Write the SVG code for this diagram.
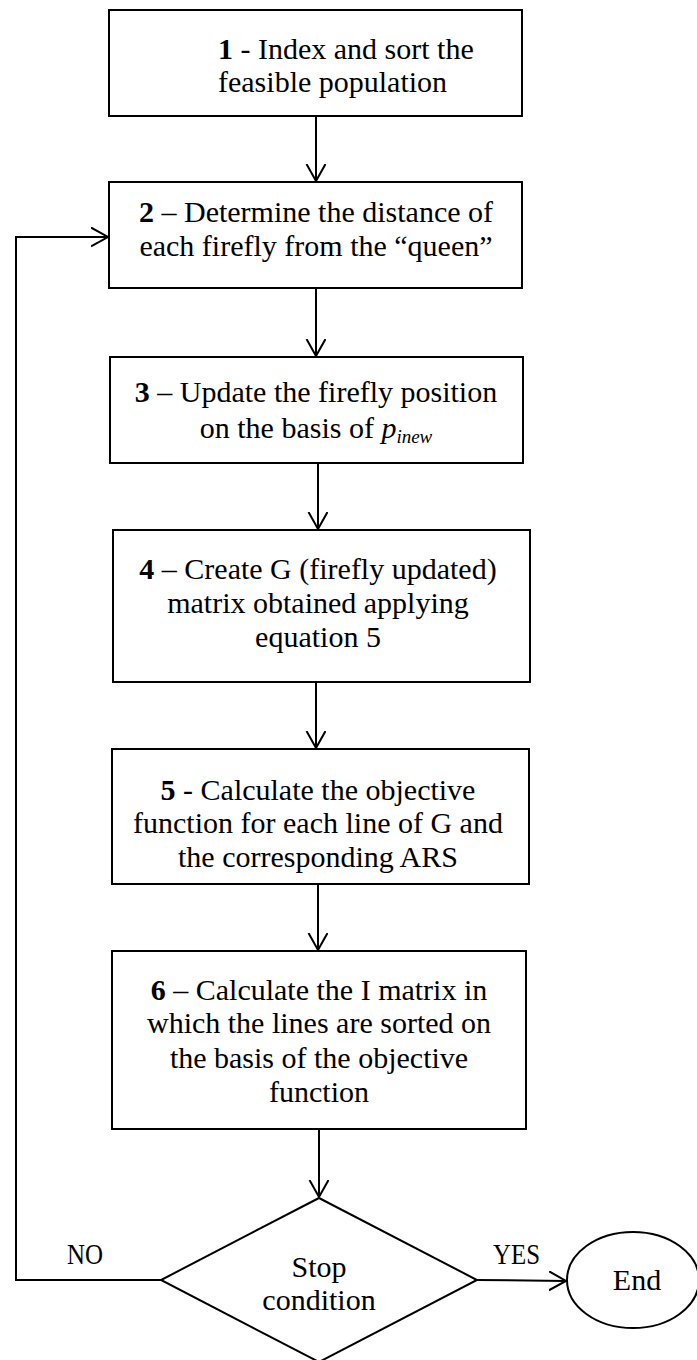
<svg xmlns="http://www.w3.org/2000/svg" width="697" height="1360" viewBox="0 0 697 1360">
<style>
.box{fill:#fff;stroke:#000;stroke-width:2}
.t{font-family:"Liberation Serif","Times New Roman",serif;font-size:30px;fill:#000}
.c{text-anchor:middle}
.b{font-weight:bold}
.con{fill:none;stroke:#000;stroke-width:2}
</style>
<defs>
<marker id="ah" markerUnits="userSpaceOnUse" markerWidth="20" markerHeight="22" refX="17" refY="10" orient="auto" viewBox="0 0 20 22">
<path d="M0,0.5 L17,10 L0,19.5" fill="none" stroke="#000" stroke-width="2"/>
</marker>
</defs>
<rect width="697" height="1360" fill="#fff"/>
<g id="connectors">
<line class="con" x1="316" y1="116" x2="316" y2="181" marker-end="url(#ah)"/>
<line class="con" x1="316" y1="288" x2="316" y2="356" marker-end="url(#ah)"/>
<line class="con" x1="318" y1="463" x2="318" y2="529" marker-end="url(#ah)"/>
<line class="con" x1="316" y1="682" x2="316" y2="748" marker-end="url(#ah)"/>
<line class="con" x1="318" y1="884" x2="318" y2="950" marker-end="url(#ah)"/>
<line class="con" x1="319" y1="1129" x2="319" y2="1197" marker-end="url(#ah)"/>
<polyline class="con" points="161,1280 16,1280 16,237 108,237" marker-end="url(#ah)"/>
<line class="con" x1="477" y1="1280" x2="566" y2="1281" marker-end="url(#ah)"/>
<text class="t" x="67" y="1264" textLength="36" lengthAdjust="spacingAndGlyphs">NO</text>
<text class="t" x="493" y="1264" textLength="47" lengthAdjust="spacingAndGlyphs">YES</text>
</g>
<g id="n1">
<rect class="box" x="109" y="10" width="413" height="106"/>
<text class="t" x="218" y="59"><tspan class="b">1</tspan> - Index and sort the</text>
<text class="t" x="218" y="92">feasible population</text>
</g>
<g id="n2">
<rect class="box" x="109" y="182" width="413" height="106"/>
<text class="t c" x="316" y="222"><tspan class="b">2</tspan> – Determine the distance of</text>
<text class="t c" x="316" y="256">each firefly from the “queen”</text>
</g>
<g id="n3">
<rect class="box" x="110" y="357" width="413" height="106"/>
<text class="t c" x="316" y="402"><tspan class="b">3</tspan> – Update the firefly position</text>
<text class="t c" x="316" y="438">on the basis of <tspan font-style="italic">p</tspan><tspan font-style="italic" font-size="19" dy="5">inew</tspan></text>
</g>
<g id="n4">
<rect class="box" x="113" y="530" width="417" height="152"/>
<text class="t c" x="318" y="579"><tspan class="b">4</tspan> – Create G (firefly updated)</text>
<text class="t c" x="318" y="613">matrix obtained applying</text>
<text class="t c" x="318" y="647">equation 5</text>
</g>
<g id="n5">
<rect class="box" x="112" y="749" width="417" height="135"/>
<text class="t c" x="318" y="800"><tspan class="b">5</tspan> - Calculate the objective</text>
<text class="t c" x="318" y="833">function for each line of G and</text>
<text class="t c" x="318" y="867">the corresponding ARS</text>
</g>
<g id="n6">
<rect class="box" x="112" y="951" width="414" height="178"/>
<text class="t c" x="319" y="1000"><tspan class="b">6</tspan> – Calculate the I matrix in</text>
<text class="t c" x="319" y="1033">which the lines are sorted on</text>
<text class="t c" x="319" y="1068">the basis of the objective</text>
<text class="t c" x="319" y="1102">function</text>
</g>
<g id="decision">
<polygon class="box" points="319,1198 477,1280 319,1362 161,1280"/>
<text class="t c" x="319" y="1277">Stop</text>
<text class="t c" x="319" y="1310">condition</text>
</g>
<g id="end">
<ellipse class="box" cx="633" cy="1280" rx="66" ry="48" stroke-width="1.5"/>
<text class="t c" x="637" y="1290">End</text>
</g>
</svg>
